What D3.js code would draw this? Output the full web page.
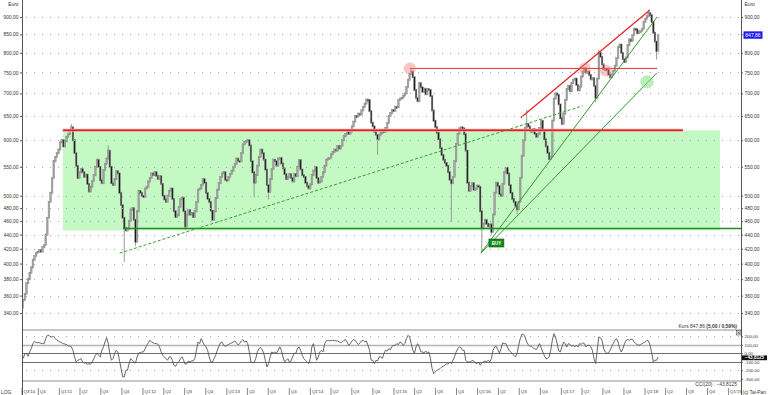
<!DOCTYPE html>
<html>
<head>
<meta charset="utf-8">
<script src="https://cdn.jsdelivr.net/npm/d3@7"></script>
<style>
html,body{margin:0;padding:0;background:#fff;}
svg{display:block;font-family:"Liberation Sans",Arial,sans-serif;}
</style>
</head>
<body>
<svg id="chart" width="768" height="395"></svg>
<script>
// weekly closes, first week ending 2010-07-23
const firstWeek = '2010-07-23';
const closes = [
355,362,375,380,388,395,405,410,414,416,418,416,422,425,440,465,490,
505,530,560,568,575,582,596,600,588,598,607,612,620,626,
600,575,552,530,540,546,540,532,536,520,507,515,525,535,550,563,550,526,521,544,
555,565,580,550,521,518,528,542,538,505,485,465,450,446,449,460,477,480,462,430,
475,508,505,500,498,512,515,524,530,538,535,540,534,528,533,520,500,494,490,500,
508,512,495,475,466,469,482,494,497,475,452,470,477,470,472,466,475,490,510,512,
518,528,522,505,495,490,476,462,475,496,510,521,532,538,540,527,526,532,537,543,
549,555,565,561,560,575,592,597,598,600,590,560,540,522,535,552,568,582,575,563,
545,518,506,528,546,563,560,552,565,566,556,547,537,528,532,537,530,524,537,533,
550,562,545,535,532,522,516,512,519,535,543,549,530,522,524,532,540,552,563,565,
566,573,577,582,580,589,584,589,600,608,612,617,613,617,628,638,650,649,655,653,
662,670,677,686,685,660,636,628,617,611,602,611,614,620,617,625,635,650,656,663,
661,670,669,685,688,690,695,700,715,732,746,752,738,708,690,682,724,714,704,711,
698,710,708,694,662,640,627,615,602,585,572,563,557,552,540,527,521,532,560,593,
613,624,626,624,612,580,522,508,516,521,510,511,517,515,475,450,456,462,456,452,
455,444,470,505,522,516,503,500,520,540,548,538,518,505,495,490,484,478,490,530,
570,600,625,633,628,620,617,622,613,607,612,625,640,620,602,588,576,564,568,640,
688,700,697,675,645,633,655,685,710,718,705,724,732,735,720,707,716,740,752,760,
750,752,744,733,736,718,690,735,800,790,770,758,758,756,745,738,745,754,767,786,
815,822,800,783,776,788,820,836,832,848,866,864,853,856,860,866,885,895,902,912,
905,885,855,830,805,847.86
];
// [week index, price] for the longer wicks
const wickLows = [[0,345],[63,402],[70,424],[101,447],[144,497],[153,494],[221,572],[267,459],[286,415],[292,440],[308,470],[357,680],[395,783]];
const wickHighs = [[30,633],[53,590],[242,760],[314,664],[359,808],[390,921]];

const cci = [
-60,-4,
0,-35,16,55,114,141,125,125,125,118,114,
114,
173,212,212,192,192,200,173,153,143,133,124,114,108,102,86,86,75,35,-43,-102,-82,-75,-63,-102,-114,
-114,
-129,-122,-129,-102,-63,-24,4,-24,-43,35,75,133,184,114,0,-82,-63,0,35,16,-82,-180,-278,-278,-200,
-200,
-122,-63,-82,-102,-114,-43,4,8,16,16,55,94,122,153,133,122,114,114,106,75,16,-24,-43,-63,-82,-43,
-43,
-82,-141,-153,-122,-102,-63,-43,-82,-129,-122,-90,-102,-90,-90,-63,35,133,114,173,133,94,75,35,-43,-102,
-102,
-63,-24,35,82,125,133,94,82,94,102,114,122,133,145,122,98,114,145,161,133,145,114,16,-102,-110,
-110,
-63,16,55,67,43,0,-82,-161,-122,-43,16,4,16,4,35,75,35,-43,-102,-82,-63,-102,-90,-43,0,
0,
55,75,35,-24,-63,-82,-102,-122,-63,75,114,16,-82,-43,16,35,16,114,145,153,145,150,153,150,145,
145,
135,125,133,153,161,133,94,114,145,161,153,125,102,122,145,153,133,145,94,35,-82,-82,-122,-82,-90,-43,
-43,
-60,0,35,27,55,43,82,94,94,114,102,133,122,94,114,173,212,192,114,35,0,75,114,75,16,
16,
4,27,4,16,-63,-180,-239,-220,-200,-192,-180,-161,-153,-141,-122,-129,-102,-122,-82,-43,16,55,75,67,35,
35,
-82,-102,-102,-102,-82,-90,-114,-122,-102,-141,-114,-102,-90,-102,-82,-102,-63,35,75,82,43,0,55,122,114,
114,
75,35,16,0,-24,-43,0,94,173,224,224,192,133,102,82,82,63,55,43,75,114,67,16,-24,-63,
-63,
-43,35,153,231,192,114,27,16,75,133,114,75,114,106,82,94,75,94,75,114,106,122,114,75,94,
94,
75,35,-63,-122,35,192,184,153,55,16,0,4,35,75,114,153,173,133,55,16,55,114,153,161,153,165,
165,
133,114,102,94,102,114,125,133,153,145,94,0,-102,-82,-82,-43.8125
];

const priceTicks = [340,360,380,400,420,440,460,480,500,550,600,650,700,750,800,850,900];
const cciTicks = [200,100,0,-100,-200,-300];
const cciLevels = [100,0,-100];
const cciGrid = [200,-200];

// drawn analysis: [date, price]
const resistance = [['2011-01-12',620],['2018-06-11',620]];
const resistance2 = [['2015-03-07',760],['2018-02-18',760]];
const channelTop = [['2016-07-03',646],['2018-01-18',921]];
const support = [['2011-10-02',449],['2019-02-20',449]];
const trendA = [['2016-01-11',414],['2018-02-18',900]];
const trendB = [['2016-01-11',414],['2018-02-18',749]];
const trendDotted = [['2011-09-17',414],['2017-03-31',672]];
const zone = [['2011-01-12',620],['2018-11-20',446]];
const redMarks = [['2015-03-07',760],['2017-04-09',760],['2017-07-10',755]];
const greenMarks = [['2018-01-05',727]];
const buySignal = ['2016-03-21',428];
const lastPrice = 847.86;

const svg = d3.select('#chart');
const left = 22, right = 741;
const parse = d3.utcParse('%Y-%m-%d');
const fmt = d3.formatLocale({decimal:',', thousands:'.', grouping:[3], currency:['',' €'], minus:'-'}).format('.2f');

const x = d3.scaleUtc().domain([new Date(Date.UTC(2010,9,1)), new Date(Date.UTC(2018,0,1))]).range([39.3, 646]);
const y = d3.scaleLog().domain([340, 900]).range([313, 17]);
const yc = d3.scaleLinear().domain([-326, 274]).range([381, 330]);

const start = parse(firstWeek);
const bars = closes.map((c,i)=>({date:d3.utcDay.offset(start, 7*i), close:c, open:i ? closes[i-1] : c}));
wickLows.forEach(([i,v])=>bars[i].low=v);
wickHighs.forEach(([i,v])=>bars[i].high=v);

svg.append('defs').append('clipPath').attr('id','plotClip')
  .append('rect').attr('x',left).attr('y',0).attr('width',right-left).attr('height',330);

const plot = svg.append('g').attr('clip-path','url(#plotClip)');
const pt = d => [x(parse(d[0])), y(d[1])];

// green zone
plot.append('rect')
  .attr('x',x(parse(zone[0][0]))).attr('y',y(zone[0][1]))
  .attr('width',x(parse(zone[1][0]))-x(parse(zone[0][0])))
  .attr('height',y(zone[1][1])-y(zone[0][1]))
  .attr('fill','#c4f9c4');

// dotted grid
const grid = svg.append('g').attr('stroke','#a8a8a8').attr('stroke-dasharray','1 7');
grid.selectAll('.gp').data(priceTicks).join('line')
  .attr('x1',left+4).attr('x2',right-2).attr('y1',d=>Math.round(y(d))+0.5).attr('y2',d=>Math.round(y(d))+0.5);
grid.selectAll('.gc').data(cciGrid).join('line')
  .attr('x1',left+4).attr('x2',right-2).attr('y1',d=>Math.round(yc(d))+0.5).attr('y2',d=>Math.round(yc(d))+0.5);

// candles
const candles = plot.append('g').selectAll('g').data(bars).join('g');
candles.filter(d=>d.low||d.high).append('line')
  .attr('x1',d=>x(d.date)).attr('x2',d=>x(d.date))
  .attr('y1',d=>y(d.high||Math.max(d.open,d.close)))
  .attr('y2',d=>y(d.low||Math.min(d.open,d.close)))
  .attr('stroke','#9a9a9a').attr('stroke-width',1);
candles.append('rect')
  .attr('x',d=>x(d.date)-0.8).attr('width',1.6)
  .attr('y',d=>y(Math.max(d.open,d.close))-0.6)
  .attr('height',d=>Math.max(1, y(Math.min(d.open,d.close))-y(Math.max(d.open,d.close)))+1.2)
  .attr('fill',d=>d.close>=d.open ? '#a4a4a4' : '#1c1c1c')
  .attr('stroke','#8a8a8a').attr('stroke-width',0.5);

// lines
const seg = (pts, color, w, dash) => plot.append('line')
  .attr('x1',pt(pts[0])[0]).attr('y1',pt(pts[0])[1])
  .attr('x2',pt(pts[1])[0]).attr('y2',pt(pts[1])[1])
  .attr('stroke',color).attr('stroke-width',w).attr('stroke-dasharray',dash||null);

seg(resistance,'#f4a0a0',3);
seg(resistance,'#e01e1e',1.4);
seg(resistance2,'#e83030',1);
seg(channelTop,'#e82020',1.2);
seg(support,'#1e8c1e',1.5);
seg(trendA,'#2e9a2e',1);
seg(trendB,'#2e9a2e',1);
seg(trendDotted,'#32a032',1,'3 2');

plot.selectAll('.rm').data(redMarks).join('circle')
  .attr('cx',d=>pt(d)[0]).attr('cy',d=>pt(d)[1]).attr('r',6)
  .attr('fill','rgba(245,110,110,0.4)');
plot.selectAll('.gm').data(greenMarks).join('circle')
  .attr('cx',d=>pt(d)[0]).attr('cy',d=>pt(d)[1]).attr('r',6)
  .attr('fill','rgba(130,225,130,0.55)').attr('stroke','#8fd88f').attr('stroke-dasharray','1 1');

// BUY signal
const [bx, by] = pt(buySignal);
plot.append('rect').attr('x',bx-8).attr('y',by-4).attr('width',15).attr('height',8)
  .attr('fill','#168a16').attr('stroke','#0c5c0c').attr('stroke-width',0.6);
plot.append('text').attr('x',bx-0.5).attr('y',by+1.6).attr('text-anchor','middle')
  .attr('fill','#fff').style('font-size','4.5px').style('font-weight','bold').text('BUY');

// CCI panel
svg.append('g').selectAll('line').data([274,-326]).join('line')
  .attr('x1',left).attr('x2',right).attr('y1',d=>yc(d)).attr('y2',d=>yc(d))
  .attr('stroke','#b4b4b4').attr('stroke-width',1.6);
svg.append('g').selectAll('line').data(cciLevels).join('line')
  .attr('x1',left).attr('x2',right).attr('y1',d=>Math.round(yc(d))+0.5).attr('y2',d=>Math.round(yc(d))+0.5)
  .attr('stroke',d=>d===100 ? '#b4b4b4' : '#6e6e6e').attr('stroke-width',d=>d===100 ? 1.5 : 1);

const n = Math.min(cci.length, bars.length);
svg.append('path')
  .datum(cci.slice(0,n))
  .attr('fill','none').attr('stroke','#555').attr('stroke-width',0.9)
  .attr('d', d3.line().x((d,i)=>x(bars[i].date)).y(d=>yc(d)));

// axes
function styleAxis(g){
  g.attr('font-size',null).attr('font-family',null);
  g.select('.domain').remove();
  g.selectAll('line').attr('stroke','#555');
  g.selectAll('text').attr('fill','#333').style('font-size','4.9px');
}
svg.append('g').attr('transform',`translate(${left},0)`)
  .call(d3.axisLeft(y).tickValues(priceTicks).tickFormat(fmt).tickSize(2).tickPadding(1.5)).call(styleAxis);
svg.append('g').attr('transform',`translate(${right},0)`)
  .call(d3.axisRight(y).tickValues(priceTicks).tickFormat(fmt).tickSize(2).tickPadding(1.5)).call(styleAxis);
const cAxis = svg.append('g').attr('transform',`translate(${right},0)`)
  .call(d3.axisRight(yc).tickValues(cciTicks).tickFormat(fmt).tickSize(2).tickPadding(1.5)).call(styleAxis);
cAxis.selectAll('text').style('font-size','4.4px');

const quarters = d3.utcMonth.every(3).range(new Date(Date.UTC(2010,6,1)), new Date(Date.UTC(2019,1,1)));
const qg = svg.append('g').attr('transform','translate(0,388)')
  .call(d3.axisBottom(x).tickValues(quarters).tickSize(7).tickFormat((d,i)=>{
    const q = Math.floor(d.getUTCMonth()/3)+1;
    return (q===1 || i===0) ? `Q${q}'${String(d.getUTCFullYear()).slice(2)}` : `Q${q}`;
  }));
qg.call(styleAxis);
qg.selectAll('.tick').attr('transform',d=>`translate(${Math.max(x(d), left+1)},0)`);
qg.selectAll('.tick line').attr('x1',-1).attr('x2',-1).attr('stroke','#888');
qg.selectAll('.tick text').attr('x',0.5).attr('y',3.6).attr('dy','0.32em').attr('text-anchor','start').style('font-size','4.4px');

// frame
svg.append('g').attr('stroke','#555').selectAll('line').data([left,right]).join('line')
  .attr('x1',d=>d+0.5).attr('x2',d=>d+0.5).attr('y1',0).attr('y2',395);

// labels
const txt = (xx, yy, s, anchor, size) => svg.append('text').attr('x',xx).attr('y',yy)
  .attr('text-anchor',anchor||'start').attr('fill','#333').style('font-size',(size||4.9)+'px').text(s);
txt(18.5, 5.5, 'Euro', 'end');
txt(744.5, 5.5, 'Euro');
txt(1, 394, 'LOG');
svg.append('rect').attr('x',742).attr('y',387).attr('width',26).attr('height',8).attr('fill','#fff');
txt(742.5, 394, '(c) Tai-Pan');

const kurs = svg.append('text').attr('x',737).attr('y',327.5).attr('text-anchor','end')
  .attr('fill','#333').style('font-size','4.9px');
kurs.append('tspan').text('Kurs ' + fmt(lastPrice) + ' ');
kurs.append('tspan').style('font-weight','bold').text('(5,00 / 0,59%)');
txt(737, 385.5, 'CCI(20) : ' + d3.format('.4f')(cci[n-1]).replace('.',','), 'end');

// close box
svg.append('rect').attr('x',736.5).attr('y',330.5).attr('width',4.5).attr('height',4.5)
  .attr('fill','#ddd').attr('stroke','#444').attr('stroke-width',0.5);
svg.append('path').attr('d','M737.5,331.5L740,334M740,331.5L737.5,334').attr('stroke','#222').attr('stroke-width',0.5);

// last value tags
svg.append('rect').attr('x',743.5).attr('y',y(lastPrice)-3.8).attr('width',19).attr('height',7.4).attr('fill','#1a1aff');
svg.append('text').attr('x',753).attr('y',y(lastPrice)+1.8).attr('text-anchor','middle')
  .attr('fill','#fff').style('font-size','5px').text(fmt(lastPrice));
const cy = yc(cci[n-1]) + 0.8;
svg.append('rect').attr('x',742).attr('y',cy-2.4).attr('width',25).attr('height',4.8).attr('fill','#111');
svg.append('text').attr('x',754.5).attr('y',cy+1.6).attr('text-anchor','middle')
  .attr('fill','#fff').style('font-size','4.6px').style('font-weight','bold').text(d3.format('.4f')(cci[n-1]).replace('.',','));
</script>
</body>
</html>
